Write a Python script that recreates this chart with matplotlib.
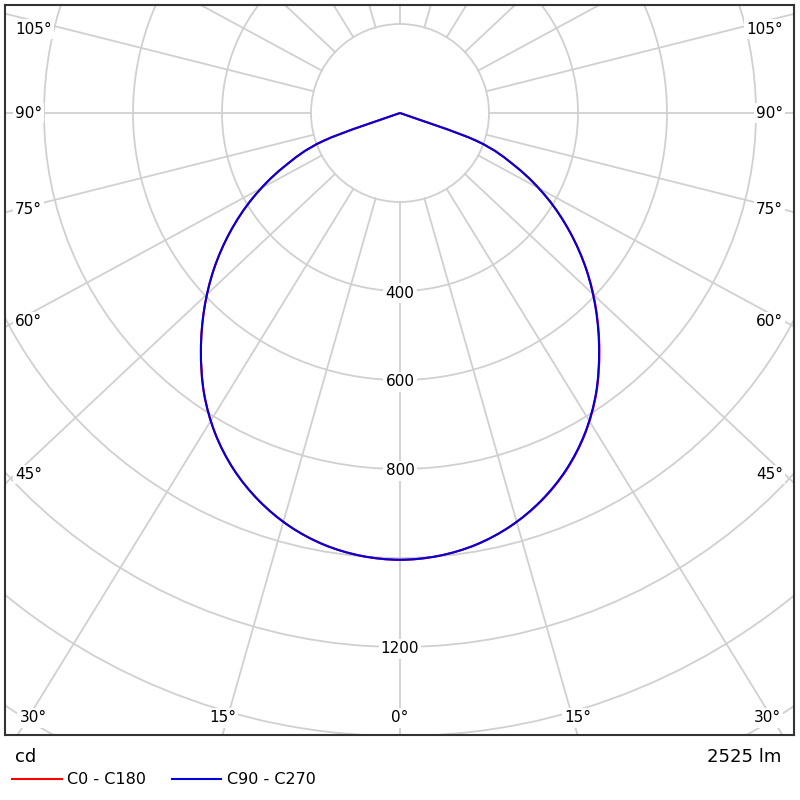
import numpy as np
import matplotlib
matplotlib.use('Agg')
import matplotlib.pyplot as plt
from matplotlib.patches import Circle, PathPatch
from matplotlib.path import Path

# luminous intensity (cd) vs gamma angle (deg)
gamma = [0, 5, 10, 15, 20, 25, 30, 35, 40, 45, 50, 55, 60, 65, 70, 75, 80, 85, 90]
c0 = [1004, 999, 985, 961, 928, 885, 832, 769, 697, 623, 547, 466, 382, 290, 183, 0, 0, 0, 0]
c180 = [1004, 999, 985, 961, 927, 884, 831, 768, 696, 622, 546, 466, 382, 290, 183, 0, 0, 0, 0]
c90 = [1004, 999, 985, 961, 927, 884, 831, 768, 696, 622, 546, 466, 382, 290, 183, 0, 0, 0, 0]
c270 = [1004, 999, 985, 961, 927, 884, 831, 768, 696, 622, 546, 466, 382, 290, 183, 0, 0, 0, 0]

ring_values = [200, 400, 600, 800, 1000, 1200, 1400, 1600, 1800]
ring_labels = [400, 600, 800, 1200]
side_angles = [45, 60, 75, 90, 105]
bottom_angles = [0, 15, 30]
flux_text = "2525 lm"

grid_col = '#d0d0d0'
px = 1 / 0.445          # cd per pixel
stretch = 1.065         # radial lines are drawn a bit wide, as in the original

fig = plt.figure(figsize=(8, 8), dpi=100)
ax = fig.add_axes([5 / 800, 65 / 800, 789 / 800, 730 / 800])
ax.set_xlim(-395 * px, 394 * px)
ax.set_ylim(-622 * px, 108 * px)
ax.set_xticks([])
ax.set_yticks([])
for sp in ax.spines.values():
    sp.set_linewidth(1.5)
    sp.set_color('#333333')

for r in ring_values:
    ax.add_patch(Circle((0, 0), r, fill=False, ec=grid_col, lw=1.3, zorder=1))

for a in range(-165, 181, 15):
    t = np.radians(a)
    d = np.array([stretch * np.sin(t), -np.cos(t)])
    d = d / np.hypot(*d)
    ax.plot([200 * d[0], 3000 * d[0]], [200 * d[1], 3000 * d[1]], color=grid_col, lw=1.3, zorder=1)


def curve_points(left, right):
    # left half from 90 down to 0, then right half 0 -> 90, dropping repeated zeros
    pts = []
    for g, v in zip(gamma[::-1], left[::-1]):
        pts.append((-v * np.sin(np.radians(g)), -v * np.cos(np.radians(g))))
    for g, v in zip(gamma[1:], right[1:]):
        pts.append((v * np.sin(np.radians(g)), -v * np.cos(np.radians(g))))
    pts = np.array(pts)
    keep = [0]
    for i in range(1, len(pts)):
        if np.hypot(*(pts[i] - pts[keep[-1]])) > 1e-6:
            keep.append(i)
    return pts[keep]


def smooth_path(p):
    # smooth drawing through the points (Catmull-Rom as cubic Bezier)
    verts = [p[0]]
    codes = [Path.MOVETO]
    n = len(p)
    for i in range(n - 1):
        p0 = p[i - 1] if i > 0 else p[i]
        p3 = p[i + 2] if i + 2 < n else p[i + 1]
        verts += [p[i] + (p[i + 1] - p0) / 6, p[i + 1] - (p3 - p[i]) / 6, p[i + 1]]
        codes += [Path.CURVE4] * 3
    return Path(verts, codes)


ax.add_patch(PathPatch(smooth_path(curve_points(c180, c0)), fill=False, ec='#ff0000', lw=1.5, zorder=3))
ax.add_patch(PathPatch(smooth_path(curve_points(c270, c90)), fill=False, ec='#0000dd', lw=1.5, zorder=4))
l1, = ax.plot([], [], color='#ff0000', lw=1.5, label='C0 - C180')
l2, = ax.plot([], [], color='#0000dd', lw=1.5, label='C90 - C270')

box = dict(fc='white', ec='none', pad=1.5)
for v in ring_labels:
    ax.text(0, -v - 2 * px, str(v), ha='center', va='center', fontsize=11, bbox=box, zorder=2)

for a in side_angles:
    t = np.radians(a)
    yp = 385 * np.cos(t) / (stretch * np.sin(t))
    yp = max(yp, -84)
    ax.text(-385 * px, -yp * px, f"{a}°", ha='left', va='center', fontsize=11, bbox=box, zorder=2)
    ax.text(383 * px, -yp * px, f"{a}°", ha='right', va='center', fontsize=11, bbox=box, zorder=2)

for a in bottom_angles:
    xp = 622 * stretch * np.tan(np.radians(a))
    xp = min(xp, 367)
    for sgn in ([1] if a == 0 else [-1, 1]):
        ax.text(sgn * xp * px, -605 * px, f"{a}°", ha='center', va='center', fontsize=11, bbox=box, zorder=2)

fig.text(15 / 800, 1 - 757 / 800, "cd", ha='left', va='center', fontsize=13)
fig.text(781 / 800, 1 - 757 / 800, flux_text, ha='right', va='center', fontsize=13)
fig.legend(handles=[l1, l2], loc='center left', bbox_to_anchor=(12 / 800, 1 - 780 / 800),
           ncol=2, frameon=False, fontsize=11.5, handlelength=3.1, handletextpad=0.37,
           columnspacing=1.6, borderpad=0, borderaxespad=0)

fig.savefig('out.png', dpi=100, facecolor='white')
